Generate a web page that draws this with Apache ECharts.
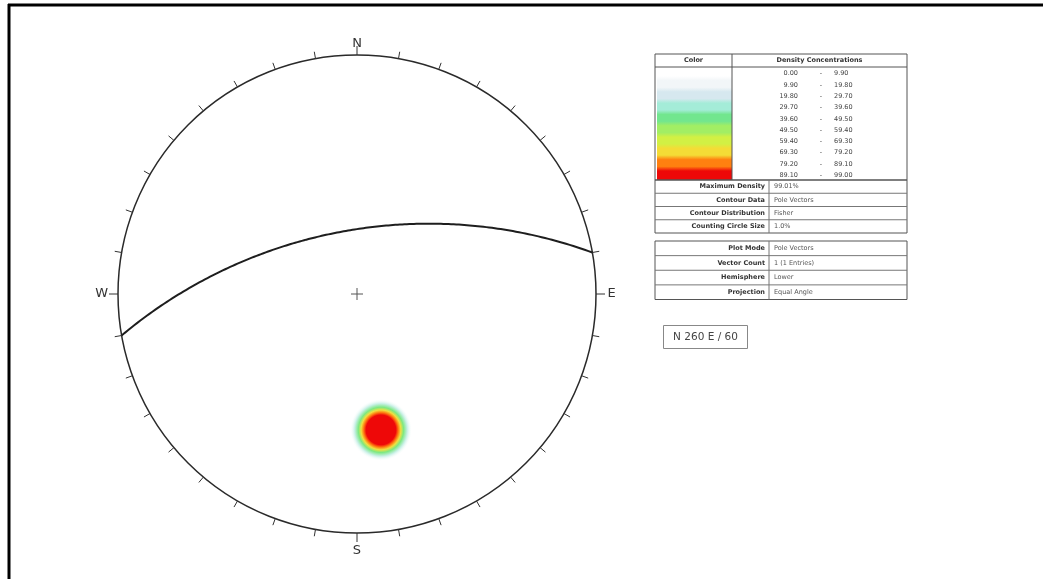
<!DOCTYPE html>
<html>
<head>
<meta charset="utf-8">
<script src="https://cdn.jsdelivr.net/npm/echarts@6/dist/echarts.min.js"></script>
<style>
html,body{margin:0;padding:0;background:#fff;}
#chart{width:1043px;height:579px;}
</style>
</head>
<body>
<div id="chart"></div>
<script>
// ---------------- DATA ----------------
const planeStrike = [260];          // right-hand-rule strike (deg)
const planeDip = [60];              // dip (deg)
const planeLabels = ['N 260 E / 60'];
const compassLabels = ['N', 'E', 'S', 'W'];
const compassAzimuths = [0, 90, 180, 270];
const tickAzimuths = [0,10,20,30,40,50,60,70,80,90,100,110,120,130,140,150,160,170,
                      180,190,200,210,220,230,240,250,260,270,280,290,300,310,320,330,340,350];
const densityLow  = ['0.00','9.90','19.80','29.70','39.60','49.50','59.40','69.30','79.20','89.10'];
const densityHigh = ['9.90','19.80','29.70','39.60','49.50','59.40','69.30','79.20','89.10','99.00'];
const densityColors = ['#ffffff','#f2f6f8','#d6e8ef','#a4ecd8','#72e68e','#a2ee64','#d2f044','#f4dc36','#ff8010','#ee0808'];
const contourInfoLabels = ['Maximum Density','Contour Data','Contour Distribution','Counting Circle Size'];
const contourInfoValues = ['99.01%','Pole Vectors','Fisher','1.0%'];
const plotInfoLabels = ['Plot Mode','Vector Count','Hemisphere','Projection'];
const plotInfoValues = ['Pole Vectors','1 (1 Entries)','Lower','Equal Angle'];

// ---------------- GEOMETRY (equal-angle, lower hemisphere) ----------------
const D2R = Math.PI / 180;
function project(vE, vN, vD) {
  if (vD < 0) { vE = -vE; vN = -vN; vD = -vD; }
  return [vE / (1 + vD), vN / (1 + vD)];
}
function greatCircle(strike, dip) {
  const dd = strike + 90;
  const s = [Math.sin(strike * D2R), Math.cos(strike * D2R), 0];
  const d = [Math.cos(dip * D2R) * Math.sin(dd * D2R), Math.cos(dip * D2R) * Math.cos(dd * D2R), Math.sin(dip * D2R)];
  const pts = [];
  for (let a = 0; a <= 180; a += 1) {
    const c = Math.cos(a * D2R), sn = Math.sin(a * D2R);
    pts.push(project(c * s[0] + sn * d[0], c * s[1] + sn * d[1], c * s[2] + sn * d[2]));
  }
  return pts;
}
function poleOf(strike, dip) {
  const trend = strike + 90 + 180, plunge = 90 - dip;
  return project(Math.cos(plunge * D2R) * Math.sin(trend * D2R), Math.cos(plunge * D2R) * Math.cos(trend * D2R), Math.sin(plunge * D2R));
}

const gcSeries = planeStrike.map((s, i) => ({
  type: 'line', data: greatCircle(s, planeDip[i]), showSymbol: false, silent: true,
  lineStyle: { color: '#1e1e1e', width: 2 }, z: 5, animation: false
}));
const poles = planeStrike.map((s, i) => poleOf(s, planeDip[i]));

// ---------------- CHART ----------------
const CX = 357, CY = 294, R = 239, EXT = 1.1;
const chart = echarts.init(document.getElementById('chart'), null, { renderer: 'canvas' });

const FONT = 'DejaVu Sans';
const graphic = [];
graphic.push({ type: 'line', shape: { x1: 8, y1: 5, x2: 1043, y2: 5 }, style: { stroke: '#000', lineWidth: 3 } });
graphic.push({ type: 'line', shape: { x1: 9, y1: 4, x2: 9, y2: 579 }, style: { stroke: '#000', lineWidth: 3 } });

// ---- legend table 1 ----
const T1 = { x: 655, y: 54, w: 252, col: 732, bandTop: 67, bandBot: 180, infoCol: 769 };
const n = densityColors.length;
const bandH = (T1.bandBot - T1.bandTop) / n;
const stops = [];
densityColors.forEach((c, i) => {
  stops.push({ offset: (i + 0.2) / n, color: c });
  stops.push({ offset: (i + 0.8) / n, color: c });
});
stops.unshift({ offset: 0, color: densityColors[0] });
stops.push({ offset: 1, color: densityColors[n - 1] });
graphic.push({ type: 'rect', shape: { x: T1.x + 2, y: T1.bandTop, width: T1.col - T1.x - 2, height: T1.bandBot - T1.bandTop },
  style: { fill: new echarts.graphic.LinearGradient(0, 0, 0, 1, stops) } });
graphic.push({ type: 'rect', shape: { x: T1.x, y: T1.y, width: T1.w, height: 233 - T1.y }, style: { fill: 'none', stroke: '#555', lineWidth: 1 } });
graphic.push({ type: 'line', shape: { x1: T1.x, y1: T1.bandTop, x2: T1.x + T1.w, y2: T1.bandTop }, style: { stroke: '#555', lineWidth: 1 } });
graphic.push({ type: 'line', shape: { x1: T1.col, y1: T1.y, x2: T1.col, y2: T1.bandBot }, style: { stroke: '#555', lineWidth: 1 } });
graphic.push({ type: 'line', shape: { x1: T1.x, y1: T1.bandBot, x2: T1.x + T1.w, y2: T1.bandBot }, style: { stroke: '#555', lineWidth: 1.5 } });
graphic.push({ type: 'text', x: (T1.x + T1.col) / 2, y: T1.y + 6.5, style: { text: 'Color', font: 'bold 6.5px ' + FONT, fill: '#333', align: 'center', verticalAlign: 'middle' } });
graphic.push({ type: 'text', x: (T1.col + T1.x + T1.w) / 2, y: T1.y + 6.5, style: { text: 'Density Concentrations', font: 'bold 6.5px ' + FONT, fill: '#333', align: 'center', verticalAlign: 'middle' } });
densityLow.forEach((lo, i) => {
  const y = T1.bandTop + bandH * (i + 0.5) + 1;
  graphic.push({ type: 'text', x: 798, y, style: { text: lo, font: '6.5px ' + FONT, fill: '#444', align: 'right', verticalAlign: 'middle' } });
  graphic.push({ type: 'text', x: 821, y, style: { text: '-', font: '6.5px ' + FONT, fill: '#444', align: 'center', verticalAlign: 'middle' } });
  graphic.push({ type: 'text', x: 834, y, style: { text: densityHigh[i], font: '6.5px ' + FONT, fill: '#444', align: 'left', verticalAlign: 'middle' } });
});
function infoRows(labels, values, top, bottom, boxed) {
  const h = (bottom - top) / labels.length;
  if (boxed) graphic.push({ type: 'rect', shape: { x: T1.x, y: top, width: T1.w, height: bottom - top }, style: { fill: 'none', stroke: '#555', lineWidth: 1 } });
  graphic.push({ type: 'line', shape: { x1: T1.infoCol, y1: top, x2: T1.infoCol, y2: bottom }, style: { stroke: '#777', lineWidth: 1 } });
  labels.forEach((lab, i) => {
    const y = top + h * (i + 0.5);
    if (i > 0) graphic.push({ type: 'line', shape: { x1: T1.x, y1: top + h * i, x2: T1.x + T1.w, y2: top + h * i }, style: { stroke: '#777', lineWidth: 1 } });
    graphic.push({ type: 'text', x: T1.infoCol - 4, y, style: { text: lab, font: 'bold 6.5px ' + FONT, fill: '#333', align: 'right', verticalAlign: 'middle' } });
    graphic.push({ type: 'text', x: T1.infoCol + 5, y, style: { text: values[i], font: '6.5px ' + FONT, fill: '#555', align: 'left', verticalAlign: 'middle' } });
  });
}
infoRows(contourInfoLabels, contourInfoValues, T1.bandBot, 233, false);
infoRows(plotInfoLabels, plotInfoValues, 241, 299.5, true);
planeLabels.forEach((t, i) => {
  graphic.push({ type: 'rect', shape: { x: 663.5, y: 325.5 + i * 30, width: 84, height: 23 }, style: { fill: '#fff', stroke: '#888', lineWidth: 1 } });
  graphic.push({ type: 'text', x: 705.5, y: 337.5 + i * 30, style: { text: t, font: '10.5px ' + FONT, fill: '#444', align: 'center', verticalAlign: 'middle' } });
});

const labelR = [1.047, 1.065, 1.072, 1.068];
const option = {
  backgroundColor: '#fff',
  animation: false,
  grid: { left: CX - R * EXT, top: CY - R * EXT, width: 2 * R * EXT, height: 2 * R * EXT, containLabel: false },
  xAxis: { type: 'value', min: -EXT, max: EXT, show: false },
  yAxis: { type: 'value', min: -EXT, max: EXT, show: false },
  graphic: graphic,
  series: [
    { type: 'custom', data: [[0, 0]], silent: true, z: 3,
      renderItem: (p, api) => {
        const c = api.coord([0, 0]); const r = api.size([1, 0])[0];
        return { type: 'circle', shape: { cx: c[0], cy: c[1], r }, style: { fill: 'none', stroke: '#2a2a2a', lineWidth: 1.5 } };
      } },
    { type: 'custom', silent: true, z: 3,
      data: tickAzimuths.map(a => [Math.sin(a * D2R), Math.cos(a * D2R), a]),
      encode: { x: 0, y: 1 },
      renderItem: (p, api) => {
        const x = api.value(0), y = api.value(1), a = api.value(2);
        const p1 = api.coord([x, y]);
        const len = (a % 90 === 0) ? 9 : 7;
        return { type: 'line', shape: { x1: p1[0], y1: p1[1], x2: p1[0] + x * len, y2: p1[1] - y * len }, style: { stroke: '#333', lineWidth: 1 } };
      } },
    { type: 'custom', silent: true, z: 3,
      data: compassAzimuths.map((a, i) => [Math.sin(a * D2R) * labelR[i], Math.cos(a * D2R) * labelR[i], i]),
      encode: { x: 0, y: 1 },
      renderItem: (p, api) => {
        const c = api.coord([api.value(0), api.value(1)]);
        return { type: 'text', x: c[0], y: c[1], style: { text: compassLabels[api.value(2)], font: '13px ' + FONT, fill: '#333', align: 'center', verticalAlign: 'middle' } };
      } },
    { type: 'custom', data: [[0, 0]], silent: true, z: 3,
      renderItem: (p, api) => {
        const c = api.coord([0, 0]);
        return { type: 'group', children: [
          { type: 'line', shape: { x1: c[0] - 6, y1: c[1], x2: c[0] + 6, y2: c[1] }, style: { stroke: '#555', lineWidth: 1 } },
          { type: 'line', shape: { x1: c[0], y1: c[1] - 6, x2: c[0], y2: c[1] + 6 }, style: { stroke: '#555', lineWidth: 1 } } ] };
      } },
    { type: 'custom', data: poles, silent: true, z: 2, encode: { x: 0, y: 1 },
      renderItem: (p, api) => {
        const c = api.coord([api.value(0), api.value(1)]);
        return { type: 'circle', shape: { cx: c[0], cy: c[1], r: 31 },
          style: { fill: new echarts.graphic.RadialGradient(0.5, 0.5, 0.5, [
            { offset: 0, color: '#ee0808' }, { offset: 0.48, color: '#ee0808' },
            { offset: 0.56, color: '#ff7a10' }, { offset: 0.64, color: '#f0e040' },
            { offset: 0.73, color: '#7de882' }, { offset: 0.85, color: '#c8f0e6' },
            { offset: 1, color: 'rgba(255,255,255,0)' } ]) } };
      } }
  ].concat(gcSeries)
};
chart.setOption(option);
</script>
</body>
</html>
